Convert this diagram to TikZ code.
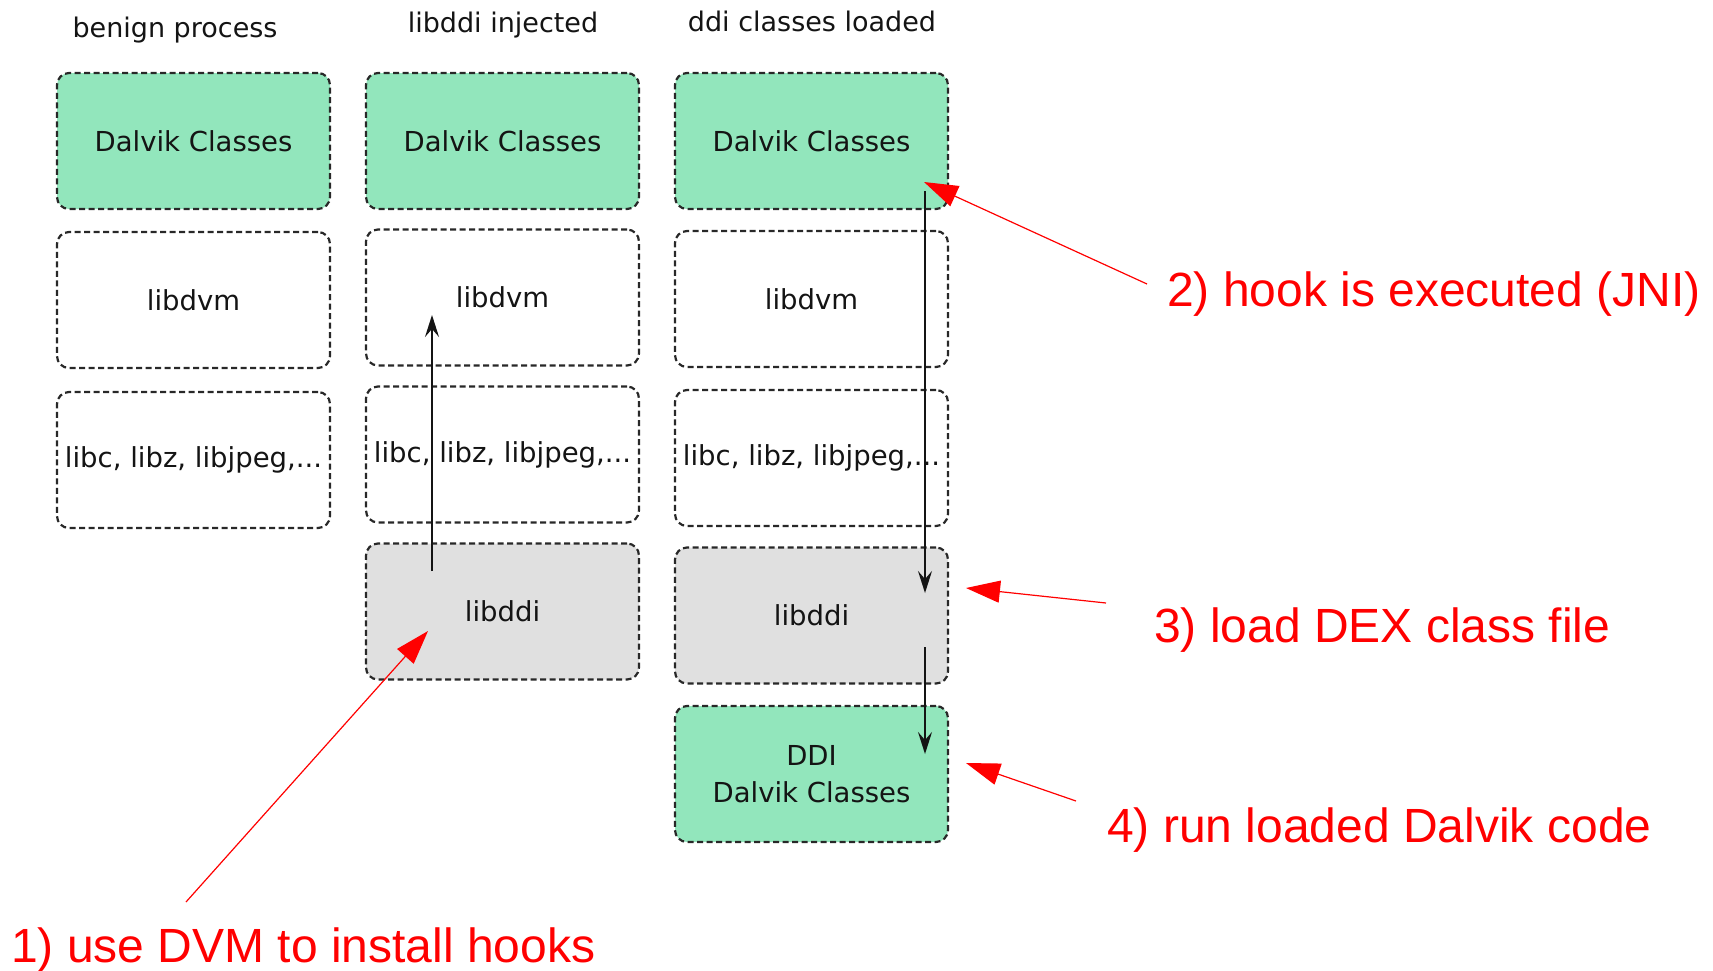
\documentclass[tikz,border=0pt]{standalone}
\usepackage{fontspec}
\setmainfont{DejaVu Sans}
\newfontfamily\notefont{Liberation Sans}
\usetikzlibrary{arrows.meta}
\definecolor{dvkgreen}{RGB}{146,230,188}
\definecolor{libgray}{RGB}{224,224,224}
\definecolor{edgegray}{RGB}{40,40,40}
\definecolor{notered}{RGB}{255,0,0}
\definecolor{inkblack}{RGB}{20,20,20}

\begin{document}
\begin{tikzpicture}[x=1pt,y=-1pt,
  layer/.style={draw=edgegray, line width=2.2pt, dash pattern=on 6pt off 3.5pt,
    rounded corners=12pt, minimum width=273pt, minimum height=136pt,
    inner sep=0pt, align=center, text=inkblack,
    font=\fontsize{27.5}{37}\selectfont},
  dalvik/.style={layer, fill=dvkgreen},
  native/.style={layer, fill=white},
  injected/.style={layer, fill=libgray},
  coltitle/.style={inner sep=0pt, text=inkblack, font=\fontsize{27}{32}\selectfont},
  note/.style={inner sep=0pt, anchor=west, text=notered,
    font=\notefont\fontsize{48}{56}\selectfont},
  flow/.style={-{Stealth[length=22pt,width=14pt,inset=8pt]}, line width=1.8pt, draw=inkblack},
  pointer/.style={-{Triangle[length=34pt,width=22pt]}, line width=1.2pt, draw=notered}
]
\useasboundingbox (0,0) rectangle (1713,970);

% column headings
\node[coltitle] (t1) at (175,30.5) {benign process};
\node[coltitle] (t2) at (503,25) {libddi injected};
\node[coltitle] (t3) at (812,21) {ddi classes loaded};

% benign process
\node[dalvik] (d1) at (193.5,141) {Dalvik Classes};
\node[native] (v1) at (193.5,300) {libdvm};
\node[native] (c1) at (193.5,460) {libc, libz, libjpeg,...};

% libddi injected
\node[dalvik] (d2) at (502.5,141) {Dalvik Classes};
\node[native] (v2) at (502.5,297.5) {libdvm};
\node[native] (c2) at (502.5,454.5) {libc, libz, libjpeg,...};
\node[injected] (i2) at (502.5,611.5) {libddi};

% ddi classes loaded
\node[dalvik] (d3) at (811.5,141) {Dalvik Classes};
\node[native] (v3) at (811.5,299) {libdvm};
\node[native] (c3) at (811.5,458) {libc, libz, libjpeg,...};
\node[injected] (i3) at (811.5,615.5) {libddi};
\node[dalvik] (x3) at (811.5,774) {DDI\\Dalvik Classes};

% control flow
\coordinate (hookS) at (432,571);
\coordinate (hookE) at (432,315);
\draw[flow] (hookS) -- (hookE);
\coordinate (jniS) at (925,191);
\coordinate (jniE) at (925,593);
\draw[flow] (jniS) -- (jniE);
\coordinate (runS) at (925,647);
\coordinate (runE) at (925,754);
\draw[flow] (runS) -- (runE);

% step annotations
\node[note] (n1) at (11,950.5) {1) use DVM to install hooks};
\node[note] (n2) at (1167,294) {2) hook is executed (JNI)};
\node[note] (n3) at (1154,630.5) {3) load DEX class file};
\node[note] (n4) at (1107,830.5) {4) run loaded Dalvik code};

\coordinate (p1S) at (186,902);
\coordinate (p1E) at (428,631);
\coordinate (p2S) at (1147,284);
\coordinate (p2E) at (924,182);
\coordinate (p3S) at (1106,603);
\coordinate (p3E) at (966,588);
\coordinate (p4S) at (1076,801);
\coordinate (p4E) at (966,763);
\draw[pointer] (p1S) -- (p1E);
\draw[pointer] (p2S) -- (p2E);
\draw[pointer] (p3S) -- (p3E);
\draw[pointer] (p4S) -- (p4E);
\end{tikzpicture}
\end{document}
